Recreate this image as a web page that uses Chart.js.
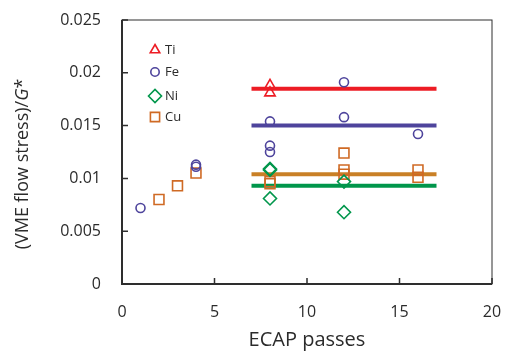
<!DOCTYPE html>
<html>
<head>
<meta charset="utf-8">
<script src="https://cdn.jsdelivr.net/npm/chart.js@4/dist/chart.umd.min.js"></script>
<style>
  html, body { margin: 0; padding: 0; background: #fff; }
</style>
</head>
<body>
<canvas id="chart" width="505" height="352"></canvas>
<script>
// ─── Data ─────────────────────────────────────────────────────────────────────

const tiX = [8, 8];
const tiY = [0.0188, 0.0181];

const feX = [1, 4, 4, 8, 8, 8, 12, 12, 16];
const feY = [0.0072, 0.0113, 0.0111, 0.0154, 0.0131, 0.0125, 0.0191, 0.0158, 0.0142];

const niX = [8, 8, 8, 12, 12];
const niY = [0.0109, 0.0108, 0.0081, 0.0097, 0.0068];

const cuX = [2, 3, 4, 8, 8, 12, 12, 12, 16, 16];
const cuY = [0.0080, 0.0093, 0.0105, 0.0097, 0.0095, 0.0124, 0.0108, 0.0104, 0.0108, 0.0101];

// horizontal average lines, drawn from x=7 to x=17
const lineX = [7, 17];
const tiLevel = 0.0185;
const feLevel = 0.0150;
const cuLevel = 0.0104;
const niLevel = 0.0093;

const xTicks = [0, 5, 10, 15, 20];
const yTicks = [0, 0.005, 0.01, 0.015, 0.02, 0.025];

// ─── Styles ───────────────────────────────────────────────────────────────────

const RED = '#ED1C24';
const BLUE = '#4E449C';
const GREEN = '#00964B';
const ORANGE = '#CF6A24';
const GOLD = '#C98026';
const AXIS = '#2e2e2e';
const TEXT = '#2b2b2b';
const FONT = '"Open Sans", "Noto Sans", sans-serif';

const pts = (xs, ys) => xs.map((x, i) => ({ x, y: ys[i] }));
const flat = (v) => lineX.map(x => ({ x, y: v }));

function markerSet(label, xs, ys, color, style, radius) {
  return {
    label,
    data: pts(xs, ys),
    pointStyle: style,
    pointRadius: radius,
    pointBorderColor: color,
    pointBackgroundColor: 'rgba(0,0,0,0)',
    pointBorderWidth: 1.6,
    showLine: false,
    order: 0,
  };
}

function levelSet(label, v, color) {
  return {
    label,
    data: flat(v),
    showLine: true,
    borderColor: color,
    borderWidth: 4,
    pointRadius: 0,
    order: 1,
  };
}

const legendItems = [
  { text: 'Ti', color: RED, style: 'triangle', radius: 5.5 },
  { text: 'Fe', color: BLUE, style: 'circle', radius: 4.2 },
  { text: 'Ni', color: GREEN, style: 'rectRot', radius: 6.5 },
  { text: 'Cu', color: ORANGE, style: 'rect', radius: 6.5 },
];

// ─── Frame, inward ticks, titles, legend ─────────────────────────────────────

const decor = {
  id: 'decor',
  afterDraw(chart) {
    const { ctx, chartArea: a, scales } = chart;
    ctx.save();

    // box
    ctx.strokeStyle = AXIS;
    ctx.lineWidth = 1;
    ctx.strokeRect(a.left, a.top, a.right - a.left, a.bottom - a.top);
    ctx.lineWidth = 2;
    ctx.beginPath();
    ctx.moveTo(a.left, a.top);
    ctx.lineTo(a.left, a.bottom);
    ctx.lineTo(a.right, a.bottom);
    ctx.stroke();

    // inward ticks
    ctx.lineWidth = 1.5;
    ctx.beginPath();
    xTicks.forEach(v => {
      const px = scales.x.getPixelForValue(v);
      ctx.moveTo(px, a.bottom);
      ctx.lineTo(px, a.bottom - 6);
    });
    yTicks.forEach(v => {
      const py = scales.y.getPixelForValue(v);
      ctx.moveTo(a.left, py);
      ctx.lineTo(a.left + 6, py);
    });
    ctx.stroke();

    // x title
    ctx.fillStyle = TEXT;
    ctx.font = '20px ' + FONT;
    ctx.textAlign = 'center';
    ctx.textBaseline = 'middle';
    ctx.fillText('ECAP passes', (a.left + a.right) / 2, 340);

    // y title, with italic G
    ctx.translate(23, 164);
    ctx.rotate(-Math.PI / 2);
    const p1 = '(VME flow stress)/';
    const p2 = 'G';
    const p3 = '*';
    const normal = '18px ' + FONT;
    const italic = 'italic 18px ' + FONT;
    ctx.font = normal;
    const w1 = ctx.measureText(p1).width;
    const w3 = ctx.measureText(p3).width;
    ctx.font = italic;
    const w2 = ctx.measureText(p2).width;
    let x0 = -(w1 + w2 + w3) / 2;
    ctx.textAlign = 'left';
    ctx.font = normal;
    ctx.fillText(p1, x0, 0);
    ctx.font = italic;
    ctx.fillText(p2, x0 + w1, 0);
    ctx.font = normal;
    ctx.fillText(p3, x0 + w1 + w2, 0);
    ctx.setTransform(1, 0, 0, 1, 0, 0);

    // legend
    ctx.font = '13px ' + FONT;
    ctx.textAlign = 'left';
    ctx.textBaseline = 'middle';
    const legendY = [50, 72, 96, 117];
    legendItems.forEach((it, i) => {
      const y = legendY[i];
      ctx.strokeStyle = it.color;
      ctx.fillStyle = 'rgba(0,0,0,0)';
      ctx.lineWidth = 1.6;
      Chart.helpers.drawPoint(ctx, { pointStyle: it.style, radius: it.radius, rotation: 0, borderWidth: 1.6 }, 155, y);
      ctx.fillStyle = TEXT;
      ctx.fillText(it.text, 165, y);
    });

    ctx.restore();
  },
};

// ─── Chart ────────────────────────────────────────────────────────────────────

new Chart(document.getElementById('chart').getContext('2d'), {
  type: 'scatter',
  data: {
    datasets: [
      markerSet('Ti', tiX, tiY, RED, 'triangle', 6),
      markerSet('Fe', feX, feY, BLUE, 'circle', 4.5),
      markerSet('Ni', niX, niY, GREEN, 'rectRot', 6.5),
      markerSet('Cu', cuX, cuY, ORANGE, 'rect', 7),
      levelSet('Ti avg', tiLevel, RED),
      levelSet('Fe avg', feLevel, BLUE),
      levelSet('Cu avg', cuLevel, GOLD),
      levelSet('Ni avg', niLevel, GREEN),
    ],
  },
  options: {
    animation: false,
    responsive: false,
    layout: { padding: { top: 20, right: 13, left: 0, bottom: 0 } },
    plugins: {
      legend: { display: false },
      tooltip: { enabled: false },
    },
    scales: {
      x: {
        type: 'linear',
        min: 0,
        max: 20,
        afterBuildTicks: (s) => { s.ticks = xTicks.map(v => ({ value: v })); },
        afterFit: (s) => { s.height = 68; s.paddingLeft = 0; s.paddingRight = 0; },
        border: { display: false },
        grid: { display: false, drawTicks: false },
        ticks: { color: TEXT, font: { family: FONT, size: 16 }, padding: 19, maxRotation: 0 },
      },
      y: {
        type: 'linear',
        min: 0,
        max: 0.025,
        afterBuildTicks: (s) => { s.ticks = yTicks.map(v => ({ value: v })); },
        afterFit: (s) => { s.width = 122; s.paddingTop = 0; s.paddingBottom = 0; },
        border: { display: false },
        grid: { display: false, drawTicks: false },
        ticks: {
          color: TEXT,
          font: { family: FONT, size: 16 },
          padding: 21,
          callback: (v) => String(parseFloat(v.toFixed(3))),
        },
      },
    },
  },
  plugins: [decor],
});
</script>
</body>
</html>
